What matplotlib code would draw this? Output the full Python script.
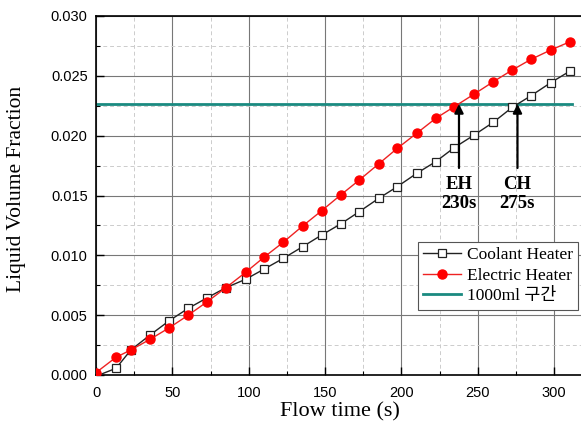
import matplotlib
matplotlib.use("Agg")
import matplotlib.pyplot as plt
from matplotlib.ticker import MultipleLocator

# Data
time_s = [0, 13.1, 22.9, 35.4, 48.0, 60.4, 72.9, 85.1, 98.0, 110.2, 122.7, 135.3, 147.8,
          160.2, 172.4, 185.0, 197.3, 210.0, 222.5, 234.6, 247.7, 260.2, 272.6, 284.9, 297.8, 310.4]
coolant_heater = [-0.0001, 0.00056, 0.0021, 0.00334, 0.00454, 0.00557, 0.00646, 0.0073, 0.0080,
                  0.00886, 0.00975, 0.01072, 0.0117, 0.01262, 0.01365, 0.01475, 0.01574, 0.01685,
                  0.01783, 0.0190, 0.02006, 0.02112, 0.02237, 0.02334, 0.02443, 0.0254]
electric_heater = [0.0002, 0.00148, 0.0021, 0.00298, 0.00395, 0.0050, 0.00613, 0.0073, 0.00858,
                   0.00986, 0.0111, 0.01245, 0.01373, 0.01504, 0.01629, 0.01763, 0.01894, 0.0202,
                   0.02145, 0.02242, 0.02348, 0.02451, 0.02549, 0.02638, 0.02716, 0.02785]
level_1000ml = 0.02265
level_x = [0, 312]
eh_time, ch_time = 237.7, 276.0
eh_label = "EH\n230s"
ch_label = "CH\n275s"
series_labels = ["Coolant Heater", "Electric Heater", "1000ml 구간"]

fig = plt.figure(figsize=(5.81, 4.34), dpi=100)
ax = fig.add_axes([96/581, 1-375/434, 1-96/581, (375-16)/434])

ax.plot(time_s, coolant_heater, color='#222222', lw=1.0, marker='s', markersize=5.5,
        markerfacecolor='white', markeredgecolor='#222222', markeredgewidth=0.9,
        label=series_labels[0], zorder=3, clip_on=True)
ax.plot(time_s, electric_heater, color='#ee2222', lw=1.0, marker='o', markersize=6.5,
        markerfacecolor='#ff0000', markeredgecolor='#ff0000', label=series_labels[1], zorder=4)
ax.plot(level_x, [level_1000ml, level_1000ml], color='#1a8a80', lw=2.0, label=series_labels[2], zorder=2)

ax.set_xlim(0, 317.6)
ax.set_ylim(0, 0.030)
ax.xaxis.set_major_locator(MultipleLocator(50))
ax.xaxis.set_minor_locator(MultipleLocator(25))
ax.yaxis.set_major_locator(MultipleLocator(0.005))
ax.yaxis.set_minor_locator(MultipleLocator(0.0025))
ax.yaxis.set_major_formatter(matplotlib.ticker.FormatStrFormatter('%.3f'))

ax.grid(which='major', color='#777777', lw=0.8, ls='-', zorder=0)
ax.grid(which='minor', color='#cccccc', lw=0.7, ls=(0, (4, 3)), zorder=0)
ax.set_axisbelow(True)

ax.tick_params(which='major', direction='in', length=6, width=1.0, labelsize=10.5, pad=6)
ax.tick_params(axis='x', which='major', pad=8)
ax.tick_params(which='minor', direction='in', length=3, width=0.8)
ax.spines['right'].set_visible(False)
for s in ['left', 'bottom', 'top']:
    ax.spines[s].set_linewidth(1.2)
for lab in ax.get_xticklabels() + ax.get_yticklabels():
    lab.set_family('Liberation Sans')

ax.set_xlabel('Flow time (s)', family='Liberation Serif', fontsize=16)
ax.set_ylabel('Liquid Volume Fraction', family='Liberation Serif', fontsize=15.5)
ax.xaxis.set_label_coords((340-96)/485, (375-402)/359)
ax.yaxis.set_label_coords((26-96)/485, (375-189)/359)

for t, lbl in [(eh_time, eh_label), (ch_time, ch_label)]:
    ax.annotate('', xy=(t, level_1000ml), xytext=(t, 0.0173),
                arrowprops=dict(arrowstyle='-|>', color='black', lw=1.6, mutation_scale=13,
                                shrinkA=0, shrinkB=0), zorder=6)
    ax.text(t, 0.0166, lbl, ha='center', va='top', family='Liberation Serif',
            fontweight='bold', fontsize=13.5, linespacing=1.15, zorder=6)

leg = ax.legend(loc='upper left', bbox_to_anchor=(418/581, 1-242/434),
                bbox_transform=fig.transFigure, borderaxespad=0,
                prop={'family': ['Liberation Serif', 'Noto Sans CJK KR'], 'size': 12.5},
                handlelength=2.2, handletextpad=0.3, labelspacing=0.25, borderpad=0.3,
                fancybox=False, framealpha=1, edgecolor='#555555')
leg.get_frame().set_linewidth(0.8)

fig.savefig('out.png', dpi=100)
